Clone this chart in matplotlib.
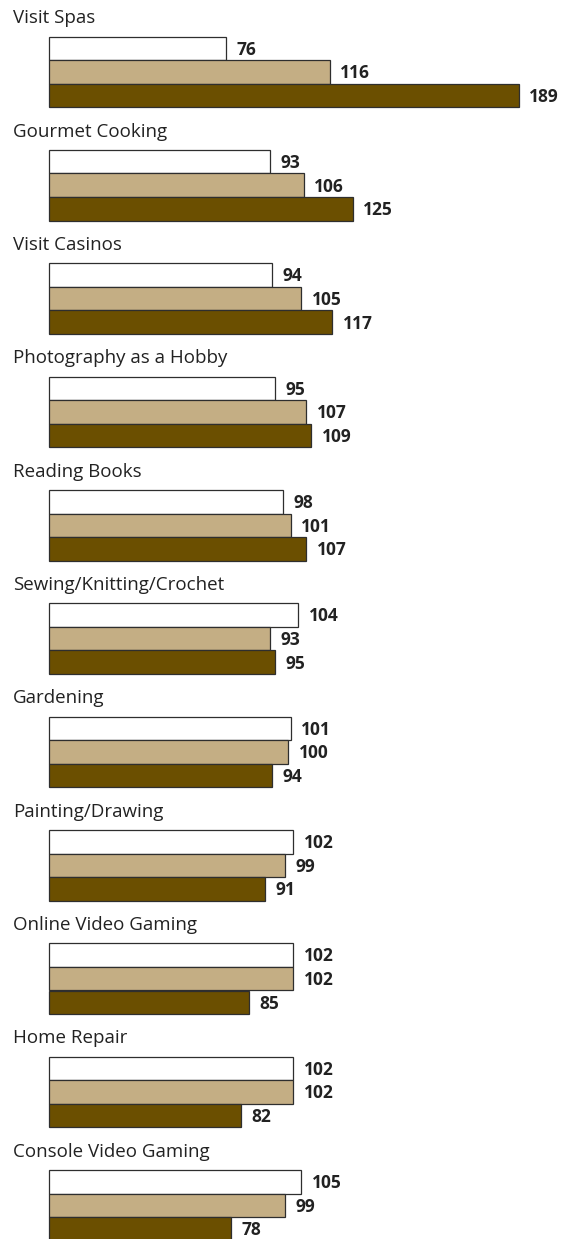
import matplotlib
matplotlib.use("Agg")
import matplotlib.pyplot as plt
import matplotlib.transforms as mtransforms

# ── data ─────────────────────────────────────
categories = [
    "Visit Spas", "Gourmet Cooking", "Visit Casinos", "Photography as a Hobby",
    "Reading Books", "Sewing/Knitting/Crochet", "Gardening", "Painting/Drawing",
    "Online Video Gaming", "Home Repair", "Console Video Gaming",
]
series_a = [76, 93, 94, 95, 98, 104, 101, 102, 102, 102, 105]
series_b = [116, 106, 105, 107, 101, 93, 100, 99, 102, 102, 99]
series_c = [189, 125, 117, 109, 107, 95, 94, 91, 85, 82, 78]

colors = ["#FFFFFF", "#C4AE84", "#6B4F00"]
base = 7.9

plt.rcParams["font.family"] = ["Open Sans", "DejaVu Sans"]

fig = plt.figure(figsize=(5.64, 12.39), dpi=100)
ax = fig.add_axes([0, 0, 1, 1])
ax.set_xlim(-11.07, 206.4)
ax.set_ylim(1239, 0)   # y in pixel rows, top to bottom
ax.axis("off")

trans = mtransforms.blended_transform_factory(ax.transAxes, ax.transData)
group_step = 113.35
bar_h = 23.6

for i, cat in enumerate(categories):
    top = 36.5 + group_step * i
    ax.text(13 / 564, top - 13.3, cat, transform=trans, fontsize=13.5,
            va="baseline", ha="left", color="#222222")
    for j, vals in enumerate([series_a, series_b, series_c]):
        yc = top + bar_h / 2 + bar_h * j
        v = vals[i]
        ax.barh(yc, v - base, left=base, height=bar_h, color=colors[j],
                edgecolor="#2e2e2e", linewidth=0.9)
        ax.annotate(str(v), (v, yc), xytext=(7.5, -1), textcoords="offset points",
                    ha="left", va="center", fontsize=12.5, fontweight="bold",
                    color="#222222")

fig.savefig("out.png", dpi=100)
